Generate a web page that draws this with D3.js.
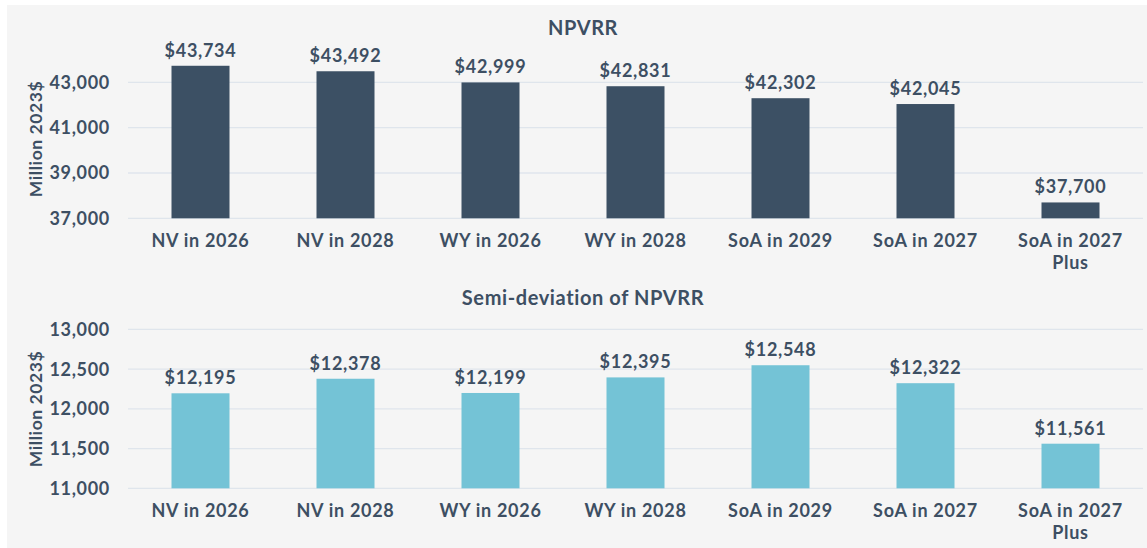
<!DOCTYPE html>
<html><head><meta charset="utf-8">
<script src="https://cdn.jsdelivr.net/npm/d3@7"></script>
<style>
html,body{margin:0;padding:0;background:#fff;}
svg text{font-family:Lato, "Noto Sans", sans-serif;font-weight:700;fill:#3d4f63;}
</style></head>
<body>
<svg id="c" width="1147" height="548"></svg>
<script>
const categories = ["NV in 2026","NV in 2028","WY in 2026","WY in 2028","SoA in 2029","SoA in 2027","SoA in 2027 Plus"];
const npvrrValues = [43734,43492,42999,42831,42302,42045,37700];
const semiDevValues = [12195,12378,12199,12395,12548,12322,11561];
const npvrrTicks = [37000,39000,41000,43000];
const semiDevTicks = [11000,11500,12000,12500,13000];
const titles = ["NPVRR","Semi-deviation of NPVRR"];
const yAxisTitle = "Million 2023$";

const svg = d3.select("#c");
svg.append("rect").attr("x",7).attr("y",5).attr("width",1140).attr("height",543).attr("fill","#f5f5f5");

const x = d3.scaleBand().domain(categories).range([128,1143]).paddingInner(0.6).paddingOuter(0.3);
const fmt = d3.format(",");
const FS = 18, LS = "0.7px";

function panel(values, ticks, domain, range, color, title, titleY, labelY, axisTitleY){
  const y = d3.scaleLinear().domain(domain).range(range);
  const g = svg.append("g");
  g.selectAll("line.grid").data(ticks).join("line")
    .attr("x1",128).attr("x2",1143)
    .attr("y1",d=>y(d)).attr("y2",d=>y(d))
    .attr("stroke","#dfe5ec").attr("stroke-width",1.3);
  g.selectAll("text.tick").data(ticks).join("text")
    .attr("x",110).attr("y",d=>y(d)).attr("dy","0.36em")
    .attr("text-anchor","end").attr("font-size",FS).style("letter-spacing",LS)
    .text(d=>fmt(d));
  g.selectAll("rect.bar").data(values).join("rect")
    .attr("x",(d,i)=>x(categories[i])).attr("width",x.bandwidth())
    .attr("y",d=>y(d)).attr("height",d=>y(domain[0])-y(d))
    .attr("fill",color);
  g.selectAll("text.val").data(values).join("text")
    .attr("x",(d,i)=>x(categories[i])+x.bandwidth()/2).attr("y",d=>y(d)-9)
    .attr("text-anchor","middle").attr("font-size",FS).style("letter-spacing",LS)
    .text(d=>"$"+fmt(d));
  categories.forEach((c,i)=>{
    const cx = x(c)+x.bandwidth()/2;
    const t = g.append("text").attr("x",cx).attr("y",labelY).attr("text-anchor","middle")
      .attr("font-size",FS).style("letter-spacing",LS);
    let lines = c === "SoA in 2027 Plus" ? ["SoA in 2027","Plus"] : [c];
    lines.forEach((l,k)=>{
      t.append("tspan").attr("x",cx).attr("dy",k===0?0:21.5).text(l);
    });
  });
  g.append("text").attr("x",583).attr("y",titleY).attr("text-anchor","middle")
    .attr("font-size",20).style("letter-spacing","0.6px").text(title);
  g.append("text").attr("transform",`translate(42,${axisTitleY}) rotate(-90)`)
    .attr("text-anchor","middle").attr("font-size",17.5).style("letter-spacing","0.6px").text(yAxisTitle);
}

panel(npvrrValues, npvrrTicks, [37000,44000], [218.3, 218.3-7*22.65], "#3c5064", titles[0], 35, 247, 139);
panel(semiDevValues, semiDevTicks, [11000,13000], [488.3, 329.3], "#74c3d6", titles[1], 305, 517, 409);
</script>
</body></html>
